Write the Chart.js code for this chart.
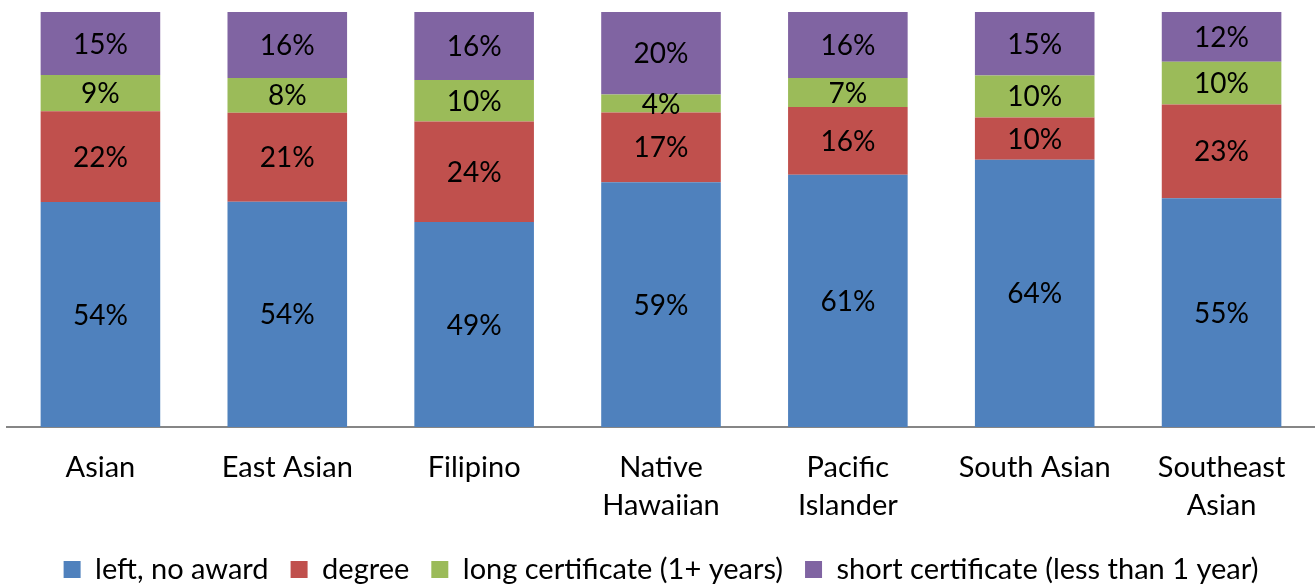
<!DOCTYPE html>
<html>
<head>
<meta charset="utf-8">
<script src="https://cdn.jsdelivr.net/npm/chart.js@4"></script>
<style>
  html, body { margin: 0; padding: 0; background: #fff; }
  #wrap { width: 1315px; height: 585px; }
</style>
</head>
<body>
<div id="wrap"><canvas id="chart"></canvas></div>
<script>
// categories
var groups = [
  "Asian", ["East Asian"], "Filipino", ["Native", "Hawaiian"],
  ["Pacific", "Islander"], "South Asian", ["Southeast", "Asian"]
];

// shares (percent)
var leftNoAward = [54.2, 54.3, 49.4, 59.0, 60.8, 64.4, 55.1];
var degree      = [21.9, 21.4, 24.2, 16.8, 16.3, 10.2, 22.6];
var longCert    = [8.7, 8.4, 10.0, 4.3, 7.0, 10.1, 10.3];
var shortCert   = [15.2, 15.9, 16.4, 19.9, 15.9, 15.3, 12.0];

var seriesNames = ["left, no award", "degree", "long certificate (1+ years)", "short certificate (less than 1 year)"];
var colors = ["#4F81BD", "#C0504D", "#9BBB59", "#8064A2"];

var fontFamily = "Lato, 'Open Sans', sans-serif";

// draws the % inside each segment
var segmentLabels = {
  id: "segmentLabels",
  afterDatasetsDraw: function (chart) {
    var ctx = chart.ctx;
    ctx.save();
    ctx.fillStyle = "#000";
    ctx.font = "28px " + fontFamily;
    ctx.textAlign = "center";
    ctx.textBaseline = "middle";
    chart.data.datasets.forEach(function (ds, i) {
      var meta = chart.getDatasetMeta(i);
      meta.data.forEach(function (bar, j) {
        var y = (bar.y + bar.base) / 2;
        ctx.fillText(Math.round(ds.data[j]) + "%", bar.x, y + 1);
      });
    });
    ctx.restore();
  }
};

var allSeries = [leftNoAward, degree, longCert, shortCert];

new Chart(document.getElementById("chart"), {
  type: "bar",
  data: {
    labels: groups,
    datasets: allSeries.map(function (vals, i) {
      return {
        label: seriesNames[i],
        data: vals,
        backgroundColor: colors[i],
        borderWidth: 0,
        barPercentage: 0.64,
        categoryPercentage: 1.0
      };
    })
  },
  options: {
    responsive: true,
    maintainAspectRatio: false,
    animation: false,
    layout: { padding: { left: 7, right: 0, top: 12, bottom: -9 } },
    plugins: {
      legend: {
        position: "bottom",
        labels: {
          color: "#000",
          font: { family: fontFamily, size: 29 },
          boxWidth: 17,
          boxHeight: 17,
          padding: 22
        }
      },
      tooltip: { enabled: false }
    },
    scales: {
      x: {
        stacked: true,
        grid: { display: false },
        border: { color: "#868686", width: 2 },
        ticks: {
          color: "#000",
          font: { family: fontFamily, size: 29, lineHeight: 1.3 },
          maxRotation: 0,
          padding: 14
        },
        afterFit: function (scale) {
          scale.height = 106;
        }
      },
      y: {
        stacked: true,
        display: false,
        min: 0,
        max: 100
      }
    }
  },
  plugins: [segmentLabels]
});
</script>
</body>
</html>
